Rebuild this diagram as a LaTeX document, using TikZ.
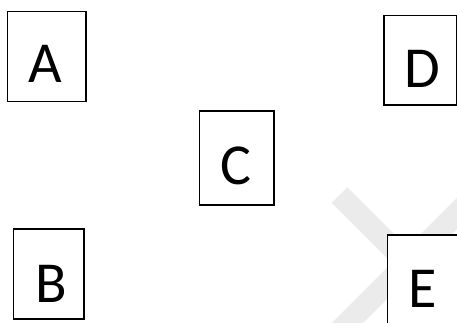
\documentclass[tikz,border=0pt]{standalone}
\usepackage{fontspec}
\setmainfont{Carlito}
\definecolor{xgray}{RGB}{235,235,235}
\tikzset{
  box/.style={draw=black, line width=1.1pt, fill=white, inner sep=0pt},
  lbl/.style={inner sep=0pt, anchor=base, font=\fontsize{58}{60}\selectfont},
  xband/.style={draw=xgray, line width=22pt, line cap=butt}
}
\begin{document}
\begin{tikzpicture}[x=1pt, y=-1pt]
\useasboundingbox (0,0) rectangle (457,323);
\clip (0,0) rectangle (457,323);
% watermark X
\coordinate (x1) at (339.5,195);
\coordinate (x2) at (475.5,331);
\coordinate (x3) at (475.5,195);
\coordinate (x4) at (339.5,331);
\draw[xband] (x1) -- (x2);
\draw[xband] (x3) -- (x4);
% boxes
\node[box, minimum width=78.5pt, minimum height=90pt] (A) at (46.75,56.5) {};
\node[box, minimum width=70.5pt, minimum height=90pt] (B) at (48.75,274) {};
\node[box, minimum width=74.5pt, minimum height=94pt] (C) at (236.75,158) {};
\node[box, minimum width=72.5pt, minimum height=89.5pt] (D) at (420.25,60.25) {};
\node[box, minimum width=90pt, minimum height=100pt] (E) at (432.5,285) {};
% labels
\node[lbl] (a) at (45,83) {A};
\node[lbl] (b) at (51,302) {B};
\node[lbl] (c) at (236,184) {C};
\node[lbl] (d) at (422,88) {D};
\node[lbl] (e) at (423,307) {E};
\end{tikzpicture}
\end{document}
